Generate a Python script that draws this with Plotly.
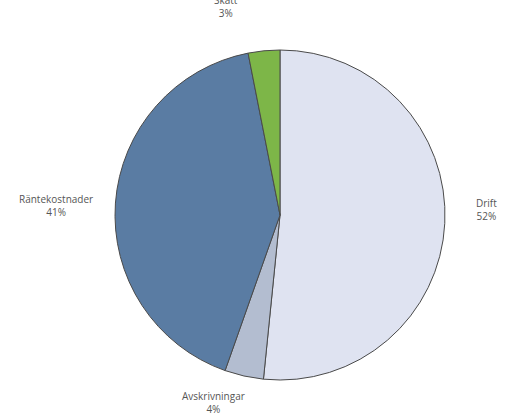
import plotly.graph_objects as go

labels = ["Drift", "Avskrivningar", "Räntekostnader", "Skatt"]
values = [51.6, 3.8, 41.5, 3.1]
colors = ["#dfe3f1", "#b3bdd0", "#5a7ca3", "#7db648"]
pct_text = ["52%", "4%", "41%", "3%"]
# label anchor positions (paper coords)
label_x = [0.964, 0.422, 0.111, 0.447]
label_y = [0.496, 0.030, 0.504, 0.985]

W, H = 505, 415
fig = go.Figure(go.Pie(
    labels=labels, values=values, sort=False, direction="clockwise", rotation=0,
    marker=dict(colors=colors, line=dict(color="#4a4a4a", width=1)),
    textinfo="none", hoverinfo="label+percent", showlegend=False,
    domain=dict(x=[115 / W, 445 / W], y=[1 - 380 / H, 1 - 50 / H]),
))
for lab, p, x, y in zip(labels, pct_text, label_x, label_y):
    fig.add_annotation(x=x, y=y, xref="paper", yref="paper", text=f"{lab}<br>{p}",
                       showarrow=False, xanchor="center", yanchor="middle",
                       font=dict(family="Open Sans, Liberation Sans, sans-serif", size=10, color="#555555"))
fig.update_layout(width=W, height=H, margin=dict(l=0, r=0, t=0, b=0),
                  paper_bgcolor="white", plot_bgcolor="white")
fig.write_html("out.html")
